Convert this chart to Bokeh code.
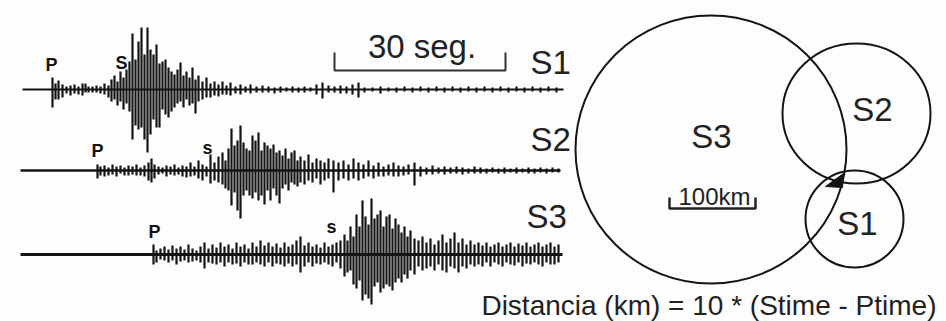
from bokeh.plotting import figure
from bokeh.models import Range1d
from bokeh.core.properties import value
from bokeh.embed import file_html
from bokeh.resources import INLINE

# ---------------- data ----------------
stations = ["S1", "S2", "S3"]

# seismogram spikes: position along record, upward and downward amplitude
t1_x = [52, 55, 58, 62, 66, 70, 74, 78, 82, 85, 88, 92, 96, 100, 104, 108, 111, 114, 117, 120,
        123, 126, 129, 132, 135, 138, 141, 144, 147, 150, 153, 156, 159, 162, 165, 168, 171, 174,
        177, 180, 183, 186, 189, 192, 195, 198, 202, 206, 210, 214, 218, 222, 226, 230, 235, 240,
        245, 250, 256, 262, 268, 274, 280, 286, 292, 298, 304, 310, 316, 322, 328, 334, 340, 346,
        352, 358, 364, 372, 380, 388, 396, 404, 412, 420, 428, 436, 444, 452, 460, 468, 476, 484,
        492, 500, 508, 516, 524, 532, 540, 548, 556]
t1_up = [12, 6, 9, 5, 3, 4, 5, 3, 6, 6, 3, 3, 4, 3, 6, 4, 10, 14, 8, 18,
         12, 20, 28, 56, 30, 48, 62, 35, 62, 40, 35, 45, 26, 28, 30, 22, 18, 15,
         20, 27, 14, 18, 12, 22, 10, 14, 8, 12, 6, 8, 5, 8, 4, 7, 3, 5,
         3, 5, 3, 4, 3, 2, 3, 2, 3, 2, 3, 2, 5, 7, 4, 3, 4, 3,
         5, 7, 2, 2, 3, 2, 2, 3, 2, 3, 2, 3, 2, 3, 2, 3, 2, 3,
         2, 3, 2, 3, 2, 3, 2, 3, 2]
t1_dn = [18, 10, 10, 8, 4, 6, 4, 5, 6, 3, 3, 3, 3, 4, 5, 8, 12, 10, 16, 12,
         20, 14, 22, 50, 36, 40, 38, 50, 63, 45, 30, 38, 38, 20, 25, 28, 22, 18,
         14, 12, 18, 10, 16, 14, 24, 12, 10, 8, 8, 6, 7, 5, 5, 6, 4, 5,
         3, 4, 3, 3, 3, 4, 3, 2, 3, 3, 3, 2, 5, 9, 3, 3, 4, 4,
         5, 8, 3, 2, 4, 2, 3, 2, 3, 2, 3, 2, 3, 2, 3, 2, 3, 2,
         3, 2, 3, 2, 3, 2, 3, 2, 3]

t2_x = [97, 100, 104, 108, 112, 116, 120, 124, 128, 132, 136, 140, 144, 148, 151, 154, 158, 162,
        166, 170, 174, 178, 182, 186, 190, 194, 198, 202, 206, 210, 214, 218, 222, 225, 228, 231,
        234, 237, 240, 243, 246, 249, 252, 255, 258, 261, 264, 267, 270, 273, 276, 279, 282, 285,
        288, 291, 294, 297, 300, 304, 308, 312, 316, 320, 324, 328, 333, 338, 343, 348, 353, 358,
        363, 368, 373, 378, 383, 388, 393, 398, 403, 408, 414, 420, 426, 432, 438, 444, 450, 456,
        462, 468, 474, 480, 486, 492, 498, 504, 510, 516, 522, 528, 534, 540, 546, 552, 558]
t2_up = [6, 4, 5, 3, 6, 4, 5, 3, 5, 4, 6, 3, 5, 8, 12, 6, 4, 3,
         5, 4, 6, 3, 5, 4, 8, 4, 10, 6, 4, 16, 8, 14, 18, 10, 22, 42,
         25, 30, 45, 28, 22, 20, 35, 30, 38, 20, 28, 25, 22, 26, 18, 20, 15, 22,
         12, 18, 20, 10, 14, 10, 16, 8, 12, 10, 8, 12, 10, 8, 10, 6, 12, 8,
         6, 10, 5, 8, 4, 6, 8, 5, 4, 6, 8, 4, 3, 5, 3, 4, 3, 4,
         3, 2, 4, 3, 2, 3, 2, 3, 2, 3, 2, 3, 2, 3, 2, 3, 2]
t2_dn = [8, 5, 6, 5, 4, 6, 3, 5, 5, 4, 5, 5, 6, 10, 12, 8, 4, 3,
         6, 4, 5, 4, 6, 7, 6, 5, 8, 10, 6, 13, 10, 12, 14, 18, 20, 35,
         22, 40, 48, 25, 20, 25, 28, 22, 30, 25, 34, 20, 30, 18, 25, 33, 18, 14,
         20, 12, 14, 16, 12, 14, 10, 12, 8, 14, 10, 8, 22, 10, 8, 10, 8, 10,
         8, 6, 8, 6, 6, 5, 6, 6, 5, 4, 15, 6, 4, 4, 3, 4, 3, 3,
         4, 3, 3, 3, 3, 2, 3, 3, 2, 3, 2, 3, 3, 2, 3, 2, 2]

t3_x = [153, 156, 160, 164, 168, 172, 176, 180, 184, 188, 192, 196, 200, 204, 208, 212, 216, 220,
        224, 228, 232, 236, 240, 244, 248, 252, 256, 260, 264, 268, 272, 276, 280, 284, 288, 292,
        296, 300, 304, 308, 312, 316, 320, 324, 328, 332, 336, 340, 344, 347, 350, 353, 356, 359,
        362, 365, 368, 371, 374, 377, 380, 383, 386, 389, 392, 395, 398, 401, 404, 407, 410, 414,
        418, 422, 426, 430, 434, 438, 442, 446, 450, 454, 458, 462, 466, 470, 474, 478, 482, 486,
        490, 494, 498, 502, 506, 510, 514, 518, 522, 526, 530, 534, 538, 542, 546, 550, 554, 558]
t3_up = [10, 4, 6, 8, 5, 9, 6, 8, 5, 10, 6, 4, 8, 12, 6, 10, 7, 12,
         8, 10, 6, 12, 8, 10, 6, 12, 8, 14, 9, 12, 8, 11, 7, 12, 8, 10,
         14, 18, 9, 12, 8, 10, 7, 12, 8, 10, 12, 14, 20, 14, 28, 18, 40, 28,
         54, 38, 30, 56, 36, 40, 44, 28, 38, 40, 26, 36, 30, 22, 28, 18, 24, 16,
         14, 18, 12, 16, 10, 14, 20, 12, 16, 22, 12, 16, 10, 14, 10, 12, 9, 12,
         8, 10, 12, 8, 10, 12, 8, 11, 9, 12, 8, 10, 12, 8, 10, 12, 8, 10]
t3_dn = [10, 8, 5, 6, 8, 6, 10, 7, 6, 8, 7, 6, 8, 14, 8, 9, 10, 8,
         12, 8, 10, 9, 12, 8, 10, 10, 8, 10, 12, 8, 12, 9, 10, 12, 9, 12,
         10, 18, 12, 8, 12, 9, 10, 8, 10, 12, 8, 14, 22, 18, 16, 30, 34, 26,
         46, 40, 44, 50, 32, 28, 38, 34, 30, 32, 36, 28, 24, 28, 20, 24, 16, 20,
         12, 16, 14, 12, 16, 10, 16, 18, 12, 14, 18, 12, 14, 10, 12, 10, 12, 8,
         12, 8, 10, 12, 8, 10, 11, 8, 12, 9, 10, 8, 10, 12, 8, 10, 10, 8]

phase_text = ["P", "S", "P", "s", "P", "s"]
phase_x = [51, 121, 97, 207, 154, 331]

# distance circles (centre, width, height)
circle_x = [854, 856, 710.5]
circle_y = [218.5, 113, 149]
circle_w = [98, 148, 271]
circle_h = [97, 140, 268]
circle_label_x = [857, 872, 711]
circle_label_y = [222.5, 108.5, 135.5]

# epicentre region (where the three circles meet)
epi_x = [825, 843, 842]
epi_y = [186, 173, 187]

formula = "Distancia (km) = 10 * (Stime - Ptime)"

# ---------------- layout ----------------
W, H = 946, 321
baselines = [89, 170, 254]
trace_start = [22, 20, 20]
trace_end = [563, 560, 562]
base_widths = [2, 2.5, 3]
phase_mid = [64.5, 62.5, 150.5, 147, 231.5, 226]
INK = "#141414"
TXT = "#222222"
FONT = value("Liberation Sans")

p = figure(width=W, height=H, output_backend="svg", toolbar_location=None,
           x_range=Range1d(0, W), y_range=Range1d(H, 0),
           min_border=0, background_fill_color="#fdfdfd", border_fill_color="#fdfdfd")
p.axis.visible = False
p.grid.visible = False
p.outline_line_color = None

traces = [(t1_x, t1_up, t1_dn), (t2_x, t2_up, t2_dn), (t3_x, t3_up, t3_dn)]
for i, (xs, up, dn) in enumerate(traces):
    b = baselines[i]
    p.segment(x0=[trace_start[i]], y0=[b], x1=[trace_end[i]], y1=[b],
              line_color=INK, line_width=base_widths[i])
    p.segment(x0=xs, y0=[b - u for u in up], x1=xs, y1=[b + d for d in dn],
              line_color=INK, line_width=2.2)

p.text(x=phase_x, y=phase_mid, text=phase_text, text_font=FONT, text_font_size="18px",
       text_font_style="bold", text_align="center", text_baseline="middle", text_color=INK)

# station labels at the right of traces
p.text(x=[530, 530, 526], y=[61.5, 138.5, 215.5], text=stations, text_font=FONT,
       text_font_size="33px", text_align="left", text_baseline="middle", text_color=TXT)

# 30 s scale bar
p.line(x=[334, 334, 505, 505], y=[52, 70, 70, 52], line_color="#333333", line_width=2)
p.text(x=[421.5], y=[45.5], text=["30 seg."], text_font=FONT, text_font_size="33px",
       text_align="center", text_baseline="middle", text_color=TXT)

# circles
p.ellipse(x=circle_x, y=circle_y, width=circle_w, height=circle_h,
          fill_color=None, line_color=INK, line_width=2)
p.patch(x=epi_x, y=epi_y, fill_color=INK, line_color=INK)
p.text(x=circle_label_x, y=circle_label_y, text=stations, text_font=FONT,
       text_font_size="33px", text_align="center", text_baseline="middle", text_color=TXT)

# 100 km scale bar
p.line(x=[669, 669, 755, 755], y=[197, 208, 208, 197], line_color="#222222", line_width=2.5)
p.text(x=[714], y=[196], text=["100km"], text_font=FONT, text_font_size="24px",
       text_align="center", text_baseline="middle", text_color=TXT)

p.text(x=[936], y=[305], text=[formula], text_font=FONT, text_font_size="28px",
       text_align="right", text_baseline="middle", text_color=TXT)

open("out.html", "w").write(file_html(p, INLINE))
